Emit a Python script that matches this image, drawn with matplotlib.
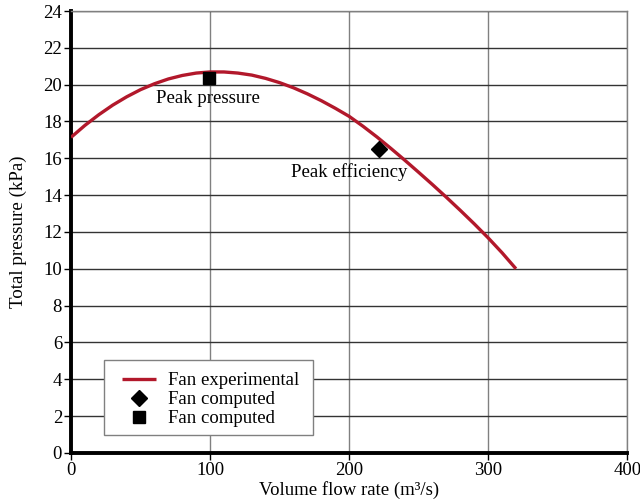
import matplotlib
matplotlib.use('Agg')
import matplotlib.pyplot as plt
from matplotlib.patches import Rectangle

plt.rcParams['font.family'] = ['Liberation Serif', 'DejaVu Serif']

# Fan curve (experimental)
flow = [0, 10, 20, 30, 40, 50, 60, 70, 80, 90, 100, 110, 120, 130, 140, 150, 160,
        170, 180, 190, 200, 210, 220, 230, 240, 250, 260, 270, 280, 290, 300, 310, 320]
pressure = [17.14, 17.79, 18.37, 18.89, 19.34, 19.73, 20.05, 20.31, 20.50, 20.63, 20.69,
            20.69, 20.63, 20.52, 20.34, 20.11, 19.83, 19.50, 19.13, 18.72, 18.28, 17.74,
            17.16, 16.54, 15.90, 15.24, 14.57, 13.88, 13.17, 12.44, 11.68, 10.87, 10.0]

# Computed points
eff_flow = [221.8]
eff_pressure = [16.52]
peak_flow = [99.1]
peak_pressure = [20.37]

fig = plt.figure(figsize=(6.4, 5.01), dpi=100)
ax = fig.add_axes([0.111, 0.096, 0.869, 0.882])

ax.plot(flow, pressure, color='#b2182b', linewidth=2.4, label='Fan experimental',
        solid_capstyle='butt', zorder=3)
ax.plot(eff_flow, eff_pressure, 'D', color='black', markersize=8.6, linestyle='none',
        label='Fan computed', zorder=4)
ax.plot(peak_flow, peak_pressure, 's', color='black', markersize=8.9, linestyle='none',
        label='Fan computed', zorder=4)

ax.text(98.6, 19.03, 'Peak pressure', ha='center', va='baseline', fontsize=13.5)
ax.text(200, 14.96, 'Peak efficiency', ha='center', va='baseline', fontsize=13.5)

ax.set_xlim(0, 400)
ax.set_ylim(0, 24)
ax.set_xticks([0, 100, 200, 300, 400])
ax.set_yticks(range(0, 25, 2))
ax.tick_params(labelsize=13.5, length=5, width=1, color='black', pad=1.5)

# horizontal lines darker than vertical ones
ax.yaxis.grid(True, color='#333333', linewidth=1)
ax.xaxis.grid(True, color='#808080', linewidth=1)
ax.set_axisbelow(True)

for side in ['top', 'right']:
    ax.spines[side].set_color('#808080')
    ax.spines[side].set_linewidth(1)
for side in ['left', 'bottom']:
    ax.spines[side].set_color('black')
    ax.spines[side].set_linewidth(2.8)

ax.set_xlabel('Volume flow rate (m³/s)', fontsize=13.5)
ax.set_ylabel('Total pressure (kPa)', fontsize=13.7)
ax.xaxis.set_label_coords(0.5, -0.064)
ax.yaxis.set_label_coords(-0.08, 0.5)

# legend box drawn separately so the padding can be wider than the text rows
ax.add_patch(Rectangle((0.0594, 0.0407), 0.376, 0.1697, transform=ax.transAxes,
                       facecolor='white', edgecolor='#808080', linewidth=1, zorder=4.5))
ax.legend(loc='upper left', bbox_to_anchor=(0.0917, 0.183), borderaxespad=0,
          borderpad=0, frameon=False, fontsize=13.5,
          handlelength=1.81, handletextpad=0.64, labelspacing=0.107)

fig.savefig('out.png', dpi=100)
